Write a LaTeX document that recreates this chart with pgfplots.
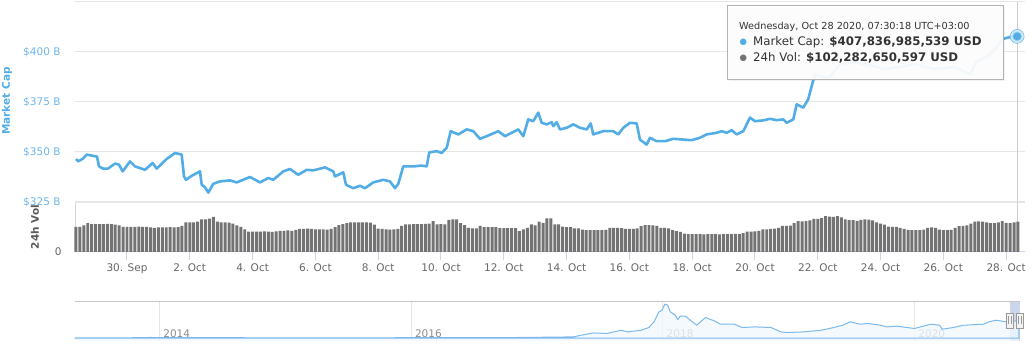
\documentclass[border=0pt]{standalone}
\usepackage{pgfplots}
\pgfplotsset{compat=1.18}
\usepackage{fontspec}
\setmainfont{DejaVu Sans}
\definecolor{mcblue}{RGB}{82,173,230}
\definecolor{mclabel}{RGB}{110,182,232}
\definecolor{volgray}{RGB}{115,115,115}
\definecolor{gridc}{RGB}{230,230,230}
\definecolor{axisc}{RGB}{204,214,235}
\definecolor{labgray}{RGB}{102,102,102}
\definecolor{navline}{RGB}{124,185,236}
\definecolor{navfill}{RGB}{240,247,253}
\definecolor{navsel}{RGB}{204,214,235}
\definecolor{txt}{RGB}{51,51,51}
\definecolor{volttl}{RGB}{90,90,90}
\newcommand{\fs}[1]{\fontsize{#1bp}{#1bp}\selectfont}

\begin{document}
\begin{tikzpicture}[x=1bp,y=1bp]
\useasboundingbox (0bp,0bp) rectangle (1034bp,356bp);

% ---------------- Market cap axis ----------------
\begin{axis}[
  at={(75bp,154bp)}, anchor=south west,
  width=950bp, height=200bp, scale only axis,
  xmin=-1.656, xmax=28.6, ymin=325, ymax=425,
  hide x axis,
  axis y line*=left, y axis line style={draw=none},
  ytick={325,350,375,400,425},
  yticklabels={\$325 B,\$350 B,\$375 B,\$400 B,{}},
  major tick length=0pt,
  ymajorgrids, grid style={gridc, line width=1bp},
  yticklabel style={font=\fs{10.5}, text=mclabel, anchor=east, xshift=-11bp},
  clip=false,
]
\draw[black!20, line width=1bp] (axis cs:28.35,325) -- (axis cs:28.35,425);
\addplot[mcblue, line width=2.6bp, line join=round] coordinates {
(-1.624,346.5) (-1.551,345.3) (-1.401,346.7) (-1.283,348.7) (-1.124,348.2) (-0.955,347.7) (-0.892,342.8) (-0.764,341.7) (-0.605,341.7) (-0.382,344.2) (-0.255,343.7) (-0.137,340.3) (0.096,345.3) (0.255,342.8) (0.573,341.1) (0.818,344.5) (0.946,341.7) (1.264,346.5) (1.529,349.5) (1.742,348.7) (1.815,337.8) (1.879,336.1) (2.061,338.1) (2.325,340.3) (2.379,333.6) (2.484,332.4) (2.589,329.7) (2.748,334.1) (2.962,335.3) (3.280,335.8) (3.494,334.8) (3.917,337.5) (4.236,334.8) (4.5,337.0) (4.659,336.1) (4.978,340.3) (5.191,341.5) (5.455,338.6) (5.723,341.1) (5.933,340.8) (6.306,342.3) (6.570,340.3) (6.624,337.8) (6.889,339.8) (6.975,333.6) (7.207,331.9) (7.420,333.1) (7.580,331.9) (7.844,334.8) (8.162,336.1) (8.376,335.3) (8.535,331.9) (8.640,334.1) (8.799,342.8) (9.118,342.8) (9.385,343.2) (9.545,342.8) (9.627,349.8) (9.863,350.4) (10.022,349.5) (10.182,352.1) (10.309,360.4) (10.551,358.8) (10.818,361.3) (11.029,360.4) (11.242,356.6) (11.455,357.9) (11.825,360.4) (12.038,357.9) (12.462,361.3) (12.621,357.9) (12.780,366.3) (12.939,365.4) (13.099,369.7) (13.207,364.6) (13.366,363.8) (13.525,364.9) (13.576,362.9) (13.685,364.9) (13.790,361.3) (14.003,362.1) (14.213,363.8) (14.427,362.1) (14.640,361.3) (14.768,364.3) (14.850,358.8) (15.169,360.4) (15.487,360.4) (15.646,358.8) (15.806,362.1) (16.019,364.6) (16.232,364.3) (16.338,356.2) (16.551,353.7) (16.656,357.1) (16.869,355.4) (17.134,355.4) (17.398,356.6) (17.717,356.2) (17.984,355.9) (18.248,357.1) (18.462,358.8) (18.780,359.6) (18.939,360.4) (19.099,359.6) (19.258,360.9) (19.417,358.8) (19.627,360.4) (19.841,367.2) (20.0,365.4) (20.264,365.8) (20.478,366.6) (20.691,365.9) (20.901,366.3) (21.010,364.6) (21.220,366.3) (21.328,373.8) (21.538,372.2) (21.697,376.4) (21.806,383.0) (21.911,388.9) (22.166,387.4) (22.389,387.4) (22.707,394.0) (23.185,395.0) (23.758,393.0) (24.140,391.4) (24.618,392.5) (25.096,394.0) (25.732,391.4) (26.369,392.5) (26.847,388.9) (27.070,395.5) (27.389,397.5) (27.707,402.5) (27.898,406.5) (28.121,407.5) (28.35,407.8)
};
\end{axis}

% ---------------- Volume axis ----------------
\begin{axis}[
  at={(75bp,104bp)}, anchor=south west,
  width=950bp, height=50bp, scale only axis,
  xmin=-1.656, xmax=28.6, ymin=0, ymax=165,
  axis x line*=bottom, axis y line*=left,
  x axis line style={axisc, line width=1bp, -},
  y axis line style={axisc, line width=1bp, -},
  xtick={0,2,...,28},
  xticklabels={30. Sep,2. Oct,4. Oct,6. Oct,8. Oct,10. Oct,12. Oct,14. Oct,16. Oct,18. Oct,20. Oct,22. Oct,24. Oct,26. Oct,28. Oct},
  xtick align=outside, major tick length=8bp,
  xtick style={axisc, line width=1bp},
  ytick={0}, yticklabels={0}, ytick style={draw=none},
  xticklabel style={font=\fs{10.5}, text=labgray, anchor=base, yshift=-12bp},
  yticklabel style={font=\fs{10.5}, text=labgray, anchor=east, xshift=-10bp},
  clip=false,
]
\draw[gridc, line width=2bp] (rel axis cs:0,1) -- (rel axis cs:1,1);
\draw[black!20, line width=1bp] (axis cs:28.35,0) -- (axis cs:28.35,165);
\addplot[ybar, bar width=0.095, fill=volgray, draw=none] coordinates {
(-1.625,83) (-1.5,83) (-1.375,88) (-1.25,95) (-1.125,92)
(-1,92) (-0.875,92) (-0.75,92) (-0.625,93) (-0.5,92) (-0.375,90) (-0.25,88) (-0.125,83)
(0,83) (0.125,83) (0.25,83) (0.375,84) (0.5,83) (0.625,83) (0.75,81) (0.875,80)
(1,81) (1.125,81) (1.25,81) (1.375,82) (1.5,81) (1.625,82) (1.75,86) (1.875,98)
(2,98) (2.125,98) (2.25,100) (2.375,108) (2.5,108) (2.625,110) (2.75,116) (2.875,100)
(3,98) (3.125,98) (3.25,97) (3.375,94) (3.5,88) (3.625,83) (3.75,75) (3.875,67)
(4,67) (4.125,67) (4.25,67) (4.375,68) (4.5,67) (4.625,66) (4.75,68) (4.875,70)
(5,70) (5.125,71) (5.25,70) (5.375,73) (5.5,76) (5.625,76) (5.75,77) (5.875,76)
(6,75) (6.125,75) (6.25,75) (6.375,74) (6.5,76) (6.625,82) (6.75,89) (6.875,92)
(7,95) (7.125,98) (7.25,98) (7.375,98) (7.5,98) (7.625,98) (7.75,97) (7.875,90)
(8,77) (8.125,76) (8.25,75) (8.375,74) (8.5,75) (8.625,76) (8.75,86) (8.875,91)
(9,91) (9.125,92) (9.25,92) (9.375,92) (9.5,93) (9.625,94) (9.75,102) (9.875,91)
(10,92) (10.125,91) (10.25,106) (10.375,108) (10.5,108) (10.625,95) (10.75,89) (10.875,80)
(11,78) (11.125,78) (11.25,86) (11.375,82) (11.5,82) (11.625,82) (11.75,82) (11.875,79)
(12,79) (12.125,79) (12.25,79) (12.375,79) (12.5,69) (12.625,75) (12.75,80) (12.875,91)
(13,88) (13.125,100) (13.25,96) (13.375,111) (13.5,111) (13.625,91) (13.75,91) (13.875,84)
(14,82) (14.125,82) (14.25,78) (14.375,78) (14.5,74) (14.625,72) (14.75,72) (14.875,72)
(15,72) (15.125,72) (15.25,73) (15.375,80) (15.5,80) (15.625,80) (15.75,79) (15.875,76)
(16,76) (16.125,76) (16.25,78) (16.375,85) (16.5,89) (16.625,89) (16.75,88) (16.875,86)
(17,80) (17.125,80) (17.25,78) (17.375,72) (17.5,69) (17.625,66) (17.75,61) (17.875,59)
(18,59) (18.125,59) (18.25,59) (18.375,58) (18.5,59) (18.625,59) (18.75,59) (18.875,58)
(19,59) (19.125,59) (19.25,59) (19.375,60) (19.5,59) (19.625,62) (19.75,67) (19.875,67)
(20,68) (20.125,70) (20.25,75) (20.375,75) (20.5,76) (20.625,77) (20.75,80) (20.875,86)
(21,86) (21.125,87) (21.25,95) (21.375,102) (21.5,101) (21.625,102) (21.75,104) (21.875,109)
(22,109) (22.125,112) (22.25,118) (22.375,117) (22.5,116) (22.625,118) (22.75,114) (22.875,108)
(23,105) (23.125,105) (23.25,103) (23.375,106) (23.5,108) (23.625,107) (23.75,104) (23.875,98)
(24,94) (24.125,90) (24.25,84) (24.375,83) (24.5,83) (24.625,80) (24.75,76) (24.875,73)
(25,72) (25.125,72) (25.25,72) (25.375,74) (25.5,80) (25.625,81) (25.75,80) (25.875,74)
(26,72) (26.125,72) (26.25,73) (26.375,80) (26.5,85) (26.625,86) (26.75,88) (26.875,94)
(27,100) (27.125,101) (27.25,100) (27.375,98) (27.5,95) (27.625,95) (27.75,98) (27.875,102)
(28,96) (28.125,95) (28.25,98) (28.375,100)
};
\end{axis}

% ---------------- Navigator ----------------
\begin{axis}[
  at={(75bp,15bp)}, anchor=south west,
  width=945bp, height=39bp, scale only axis,
  xmin=2013.330, xmax=2020.839, ymin=-73, ymax=878,
  axis x line*=bottom, x axis line style={draw=none},
  axis y line=none,
  xtick={2014,2016,2018,2020}, xticklabels={2014,2016,2018,2020},
  major tick length=0pt,
  xmajorgrids, grid style={gridc, line width=1bp},
  xticklabel style={font=\fs{10.5}, text=black!45, anchor=base west, xshift=0.5bp, yshift=3.5bp},
  clip=false,
]
\fill[navsel] (axis cs:2020.758,-73) rectangle (axis cs:2020.837,878);
\fill[navfill, opacity=0.8] (axis cs:2013.33,-73) rectangle (axis cs:2020.83,0);
\addplot[navline, line width=1bp, fill=navfill, fill opacity=0.8] coordinates {
(2013.33,1.5) (2013.6,1.2) (2013.85,8) (2013.92,13) (2014.0,10) (2014.2,8) (2014.5,8) (2014.8,5) (2015.0,4) (2015.5,4) (2016.0,7) (2016.3,8) (2016.5,10) (2016.8,11) (2017.0,17) (2017.15,22) (2017.29,27) (2017.35,68) (2017.45,124) (2017.56,110) (2017.67,190) (2017.72,149) (2017.83,190) (2017.89,256) (2017.93,393) (2017.97,637) (2017.995,678) (2018.016,825) (2018.04,800) (2018.06,637) (2018.10,556) (2018.12,451) (2018.14,532) (2018.18,532) (2018.22,434) (2018.27,312) (2018.34,500) (2018.41,417) (2018.46,337) (2018.57,337) (2018.63,256) (2018.73,271) (2018.86,256) (2018.94,149) (2018.99,134) (2019.12,149) (2019.26,190) (2019.36,256) (2019.43,312) (2019.49,393) (2019.57,337) (2019.63,354) (2019.73,312) (2019.78,271) (2019.86,288) (2020.0,232) (2020.13,337) (2020.20,312) (2020.22,215) (2020.31,256) (2020.39,312) (2020.55,337) (2020.59,393) (2020.65,434) (2020.73,393) (2020.79,417) (2020.83,408)
} \closedcycle;
\draw[black!22, line width=1bp] (rel axis cs:0,1) -- (rel axis cs:1,1);
\end{axis}

% navigator handles
\foreach \hx in {1009.7,1019.7} {
  \draw[black!40, fill=black!5, line width=0.8bp] (\hx-3.8,28) rectangle (\hx+3.8,43);
  \draw[black!40, line width=0.8bp] (\hx-1.3,31.5) -- (\hx-1.3,39.5) (\hx+1.3,31.5) -- (\hx+1.3,39.5);
}

% axis titles
\node[rotate=90, text=mcblue, font=\bfseries\fs{10.5}] at (7,255) {Market Cap};
\node[rotate=90, text=volttl, font=\bfseries\fs{10.5}] at (35,129) {24h Vol};

% tooltip (semi-transparent, the line shows faintly through it)
\fill[black, opacity=0.05] (729.3,275) rectangle (1005.3,349);
\fill[black, opacity=0.07] (728.3,276) rectangle (1004.3,350);
\fill[white, opacity=0.93] (727.3,277) rectangle (1003.3,351);
\draw[black!30, line width=0.8bp] (727.3,277) rectangle (1003.3,351);
\node[anchor=base west, inner sep=0pt, text=txt, font=\fs{9.7}] at (739,327) {Wednesday, Oct 28 2020, 07:30:18 UTC+03:00};
\node[anchor=base west, inner sep=0pt, text=mcblue, font=\fs{8.5}] at (739.5,312) {●};
\node[anchor=base west, inner sep=0pt, text=txt, font=\fs{11.8}] at (753,310.3) {Market Cap: \textbf{\$407,836,985,539 USD}};
\node[anchor=base west, inner sep=0pt, text=volgray, font=\fs{8.5}] at (739.5,296) {●};
\node[anchor=base west, inner sep=0pt, text=txt, font=\fs{11.8}] at (753,294.3) {24h Vol: \textbf{\$102,282,650,597 USD}};

% end-point marker of the market cap series (drawn over the tooltip edge)
\begin{axis}[
  at={(75bp,154bp)}, anchor=south west,
  width=950bp, height=200bp, scale only axis,
  xmin=-1.656, xmax=28.6, ymin=325, ymax=425,
  hide axis, clip=false,
]
\addplot[mcblue, only marks, mark=*, mark size=7bp, mark options={fill=mcblue!28, draw=none}] coordinates {(28.35,407.8)};
\addplot[mcblue, only marks, mark=*, mark size=4.4bp, mark options={fill=mcblue, draw=mcblue!60, line width=0.6bp}] coordinates {(28.35,407.8)};
\end{axis}
\end{tikzpicture}
\end{document}
